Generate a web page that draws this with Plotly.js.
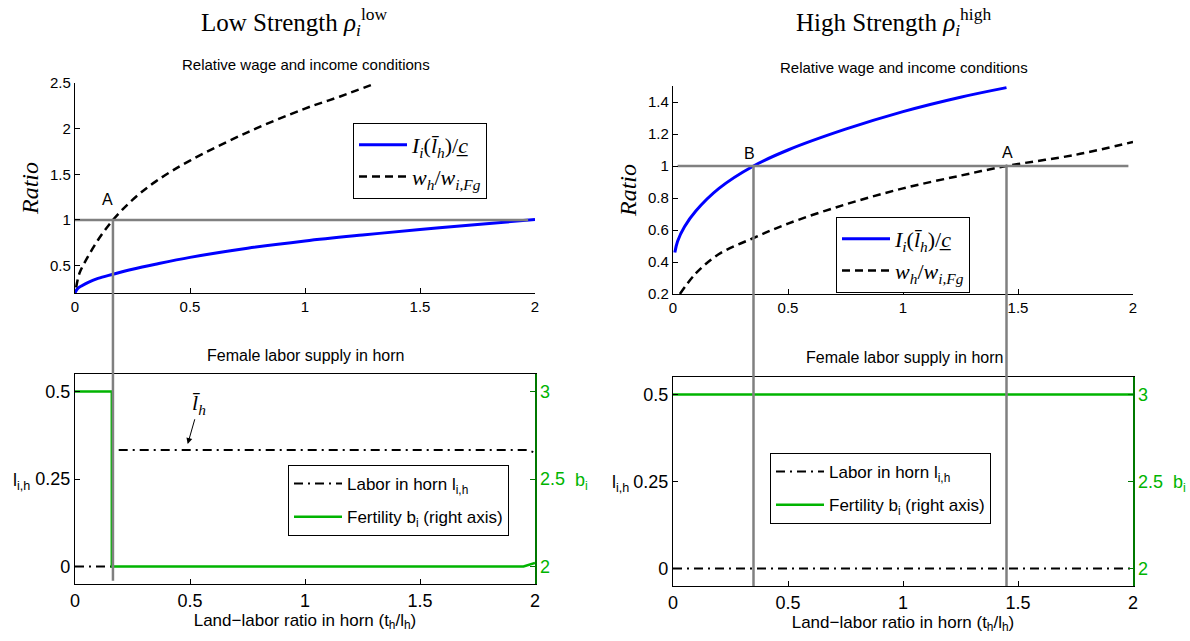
<!DOCTYPE html>
<html><head><meta charset="utf-8">
<script src="https://cdn.plot.ly/plotly-3.0.1.min.js"></script>
<style>html,body{margin:0;padding:0;background:#fff}#chart{width:1190px;height:641px}</style>
</head><body><div id="chart"></div>
<script>
// ---------- data ----------
const xTickVals = [0, 0.5, 1, 1.5, 2];
const xTickText = ['0', '0.5', '1', '1.5', '2'];

// Low strength, top panel
const lowIncomeX = [0, 0.01, 0.03, 0.06, 0.1, 0.165, 0.25, 0.35, 0.5, 0.75, 1, 1.25, 1.5, 1.75, 2];
const lowIncomeY = [0.2, 0.245, 0.28, 0.32, 0.36, 0.405, 0.46, 0.515, 0.59, 0.69, 0.77, 0.835, 0.895, 0.95, 1.005];
const lowWageX = [0.005, 0.02, 0.05, 0.1, 0.165, 0.25, 0.35, 0.5, 0.75, 1, 1.15, 1.3];
const lowWageY = [0.26, 0.42, 0.57, 0.78, 1.0, 1.22, 1.42, 1.65, 1.96, 2.22, 2.35, 2.49];
const lowRefX = [0, 1.97];
const lowRefY = [1, 1];
const lowPointA = 0.165;

// High strength, top panel
const highIncomeX = [0.008, 0.02, 0.05, 0.1, 0.2, 0.35, 0.5, 0.75, 1, 1.25, 1.45];
const highIncomeY = [0.46, 0.53, 0.62, 0.72, 0.86, 1.0, 1.1, 1.23, 1.34, 1.43, 1.49];
const highWageX = [0.03, 0.1, 0.2, 0.35, 0.5, 0.75, 1, 1.25, 1.45, 1.75, 2];
const highWageY = [0.2, 0.33, 0.45, 0.55, 0.64, 0.76, 0.86, 0.94, 1.0, 1.07, 1.15];
const highRefX = [0.02, 1.98];
const highRefY = [1, 1];
const highPointB = 0.35;
const highPointA = 1.45;

// Low strength, bottom panel
const lowLaborX = [0, 0.16, null, 0.19, 1.97, 2];
const lowLaborY = [0, 0, null, 0.333, 0.333, 0.325];
const lowFertX = [0, 0.16, 0.16, 1.95, 2];
const lowFertY = [3, 3, 2, 2, 2.02];

// High strength, bottom panel
const highLaborX = [0, 2];
const highLaborY = [0, 0];
const highFertX = [0, 2];
const highFertY = [3, 3];

// ---------- style ----------
const SANS = 'Liberation Sans, Arial, sans-serif';
const SERIF = 'Liberation Serif, Times New Roman, serif';
const BLUE = '#0000ff';
const GRAY = 'rgb(128,128,128)';
const GREEN = 'rgb(0,180,0)';
const GREEN_AXIS = 'rgb(0,120,0)';

const nameIncome = '<i>I<sub>i</sub></i>(<i>l\u0304<sub>h</sub></i>)/<i>c\u0332</i>';
const nameWage = '<i>w<sub>h</sub></i>/<i>w<sub>i,Fg</sub></i>';
const nameLabor = 'Labor in horn l<sub>i,h</sub>';
const nameFert = 'Fertility b<sub>i</sub> (right axis)';

const smooth = {shape: 'spline', smoothing: 1};
const traces = [
  {x: lowIncomeX, y: lowIncomeY, xaxis: 'x', yaxis: 'y', mode: 'lines', name: nameIncome,
   line: Object.assign({color: BLUE, width: 3}, smooth), legend: 'legend', legendgroup: 'a'},
  {x: lowWageX, y: lowWageY, xaxis: 'x', yaxis: 'y', mode: 'lines', name: nameWage,
   line: Object.assign({color: '#000', width: 2.5, dash: '8px,5px'}, smooth), legend: 'legend', legendgroup: 'b'},
  {x: lowRefX, y: lowRefY, xaxis: 'x', yaxis: 'y', mode: 'lines', showlegend: false,
   line: {color: GRAY, width: 2.5}},

  {x: highIncomeX, y: highIncomeY, xaxis: 'x2', yaxis: 'y2', mode: 'lines', name: nameIncome,
   line: Object.assign({color: BLUE, width: 3}, smooth), legend: 'legend2', legendgroup: 'a'},
  {x: highWageX, y: highWageY, xaxis: 'x2', yaxis: 'y2', mode: 'lines', name: nameWage,
   line: Object.assign({color: '#000', width: 2.5, dash: '8px,5px'}, smooth), legend: 'legend2', legendgroup: 'b'},
  {x: highRefX, y: highRefY, xaxis: 'x2', yaxis: 'y2', mode: 'lines', showlegend: false,
   line: {color: GRAY, width: 2.5}},

  {x: lowLaborX, y: lowLaborY, xaxis: 'x3', yaxis: 'y3', mode: 'lines', name: nameLabor,
   line: {color: '#000', width: 2, dash: '9px,5px,2px,5px'}, legend: 'legend3', legendgroup: 'c', connectgaps: false},
  {x: lowFertX, y: lowFertY, xaxis: 'x3', yaxis: 'y5', mode: 'lines', name: nameFert,
   line: {color: GREEN, width: 2.5}, legend: 'legend3', legendgroup: 'd'},

  {x: highLaborX, y: highLaborY, xaxis: 'x4', yaxis: 'y4', mode: 'lines', name: nameLabor,
   line: {color: '#000', width: 2, dash: '9px,5px,2px,5px'}, legend: 'legend4', legendgroup: 'c'},
  {x: highFertX, y: highFertY, xaxis: 'x4', yaxis: 'y6', mode: 'lines', name: nameFert,
   line: {color: GREEN, width: 2.5}, legend: 'legend4', legendgroup: 'd'}
];

const domX1 = [75/1190, 535/1190];
const domX2 = [673/1190, 1133/1190];
const domY1 = [1 - 293/641, 1 - 83/641];
const domY2 = [1 - 294/641, 1 - 86/641];
const domY3 = [1 - 584/641, 1 - 374/641];
const domY4 = [1 - 586/641, 1 - 377/641];

function xAxis(dom, anchor, fontSize, boxed, title) {
  const a = {domain: dom, anchor: anchor, range: [0, 2], tickvals: xTickVals, ticktext: xTickText,
    ticks: 'inside', ticklen: 5, tickwidth: 1, tickcolor: '#000',
    showline: true, linecolor: '#000', linewidth: 1.2, mirror: boxed,
    showgrid: false, zeroline: false, automargin: false,
    tickfont: {family: SANS, size: fontSize, color: '#000'}};
  if (title) a.title = {text: title, font: {family: SANS, size: 17, color: '#000'}, standoff: 2};
  return a;
}
function yAxis(dom, anchor, range, vals, texts, fontSize) {
  return {domain: dom, anchor: anchor, range: range, tickvals: vals, ticktext: texts,
    ticks: 'inside', ticklen: 5, tickwidth: 1, tickcolor: '#000',
    showline: true, linecolor: '#000', linewidth: 1.2,
    showgrid: false, zeroline: false, automargin: false,
    tickfont: {family: SANS, size: fontSize, color: '#000'}};
}
function yRight(overlay, anchor, dom) {
  return {domain: dom, overlaying: overlay, anchor: anchor, side: 'right', range: [1.9, 3.1],
    tickvals: [2, 2.5, 3], ticktext: ['2', '2.5', '3'],
    ticks: 'inside', ticklen: 5, tickwidth: 1, tickcolor: GREEN_AXIS,
    showline: true, linecolor: GREEN_AXIS, linewidth: 1.5,
    showgrid: false, zeroline: false, automargin: false,
    tickfont: {family: SANS, size: 18, color: GREEN}};
}

const xTitle = 'Land\u2212labor ratio in horn (t<sub>h</sub>/l<sub>h</sub>)';
const ratioTitle = {text: '<i>Ratio</i>', font: {family: SERIF, size: 24, color: '#000'}, standoff: 4};

const yTop1 = yAxis(domY1, 'x', [0.2, 2.5], [0.5, 1, 1.5, 2, 2.5], ['0.5', '1', '1.5', '2', '2.5'], 15);
yTop1.title = ratioTitle;
const yTop2 = yAxis(domY2, 'x2', [0.2, 1.5], [0.2, 0.4, 0.6, 0.8, 1, 1.2, 1.4],
  ['0.2', '0.4', '0.6', '0.8', '1', '1.2', '1.4'], 15);
yTop2.title = ratioTitle;

function grayShapes(xref, yref, xv, yTopVal, yBottomRange, domBottom, domTop, bottomPad) {
  return [
    {type: 'line', xref: xref, yref: yref, x0: xv, x1: xv, y0: yTopVal, y1: yBottomRange,
     line: {color: GRAY, width: 2.5}, layer: 'above'},
    {type: 'line', xref: xref, yref: 'paper', x0: xv, x1: xv, y0: domBottom[0] + bottomPad, y1: domTop[0],
     line: {color: GRAY, width: 2.5}, layer: 'above'}
  ];
}

const shapes = [].concat(
  grayShapes('x', 'y', lowPointA, 1, 0.2, domY3, domY1, 0.005),
  grayShapes('x2', 'y2', highPointB, 1, 0.2, domY4, domY2, 0.0),
  grayShapes('x2', 'y2', highPointA, 1, 0.2, domY4, domY2, 0.0)
);

function legendBox(x, y, fontFamily, fontSize, gap) {
  return {x: x, y: y, xanchor: 'left', yanchor: 'top', bgcolor: '#fff',
    bordercolor: '#000', borderwidth: 1, itemwidth: 48,
    font: {family: fontFamily, size: fontSize, color: '#000'}, tracegroupgap: gap};
}

function paperText(text, px, py, family, size, color, xanchor) {
  return {text: text, xref: 'paper', yref: 'paper', x: px / 1190, y: 1 - py / 641,
    xanchor: xanchor || 'center', yanchor: 'middle', showarrow: false,
    font: {family: family, size: size, color: color || '#000'}};
}

const annotations = [
  paperText('Low Strength <i>\u03c1</i><sub><i>i</i></sub><sup>low</sup>', 294, 22, SERIF, 25),
  paperText('High Strength <i>\u03c1</i><sub><i>i</i></sub><sup>high</sup>', 893, 22, SERIF, 25),
  paperText('Relative wage and income conditions', 306, 65, SANS, 15),
  paperText('Relative wage and income conditions', 904, 67, SANS, 15),
  paperText('Female labor supply in horn', 306, 355, SANS, 16),
  paperText('Female labor supply in horn', 904, 357, SANS, 16),
  {text: 'A', xref: 'x', yref: 'y', x: 0.143, y: 1.22, showarrow: false,
   font: {family: SANS, size: 16, color: '#000'}},
  {text: 'B', xref: 'x2', yref: 'y2', x: 0.332, y: 1.08, showarrow: false,
   font: {family: SANS, size: 16, color: '#000'}},
  {text: 'A', xref: 'x2', yref: 'y2', x: 1.454, y: 1.087, showarrow: false,
   font: {family: SANS, size: 16, color: '#000'}},
  paperText('l<sub>i,h</sub>', 11, 481, SANS, 18, '#000', 'left'),
  paperText('l<sub>i,h</sub>', 610, 483, SANS, 18, '#000', 'left'),
  paperText('b<sub>i</sub>', 573, 481, SANS, 18, GREEN, 'left'),
  paperText('b<sub>i</sub>', 1171, 483, SANS, 18, GREEN, 'left'),
  {text: '<i>l\u0304<sub>h</sub></i>', xref: 'x3', yref: 'y3', axref: 'x3', ayref: 'y3',
   x: 0.49, y: 0.35, ax: 0.54, ay: 0.465, showarrow: true, arrowhead: 2, arrowsize: 1.2,
   arrowwidth: 1, arrowcolor: '#000', font: {family: SERIF, size: 22, color: '#000'}}
];

const layout = {
  width: 1190, height: 641,
  margin: {l: 0, r: 0, t: 0, b: 0},
  paper_bgcolor: '#fff', plot_bgcolor: 'rgba(0,0,0,0)',
  font: {family: SANS, color: '#000'},
  xaxis: xAxis(domX1, 'y', 15, false),
  yaxis: yTop1,
  xaxis2: xAxis(domX2, 'y2', 15, false),
  yaxis2: yTop2,
  xaxis3: xAxis(domX1, 'y3', 18, true, xTitle),
  yaxis3: yAxis(domY3, 'x3', [-0.05, 0.55], [0, 0.25, 0.5], ['0', '0.25', '0.5'], 18),
  xaxis4: xAxis(domX2, 'y4', 18, true, xTitle),
  yaxis4: yAxis(domY4, 'x4', [-0.05, 0.55], [0, 0.25, 0.5], ['0', '0.25', '0.5'], 18),
  yaxis5: yRight('y3', 'x3', domY3),
  yaxis6: yRight('y4', 'x4', domY4),
  legend: legendBox(353/1190, 1 - 123/641, SERIF, 22, 0),
  legend2: legendBox(836/1190, 1 - 217/641, SERIF, 22, 0),
  legend3: legendBox(288/1190, 1 - 465/641, SANS, 17, 8),
  legend4: legendBox(770/1190, 1 - 453/641, SANS, 17, 8),
  shapes: shapes,
  annotations: annotations,
  showlegend: true
};

Plotly.newPlot('chart', traces, layout, {staticPlot: true, displayModeBar: false});
</script>
</body></html>
